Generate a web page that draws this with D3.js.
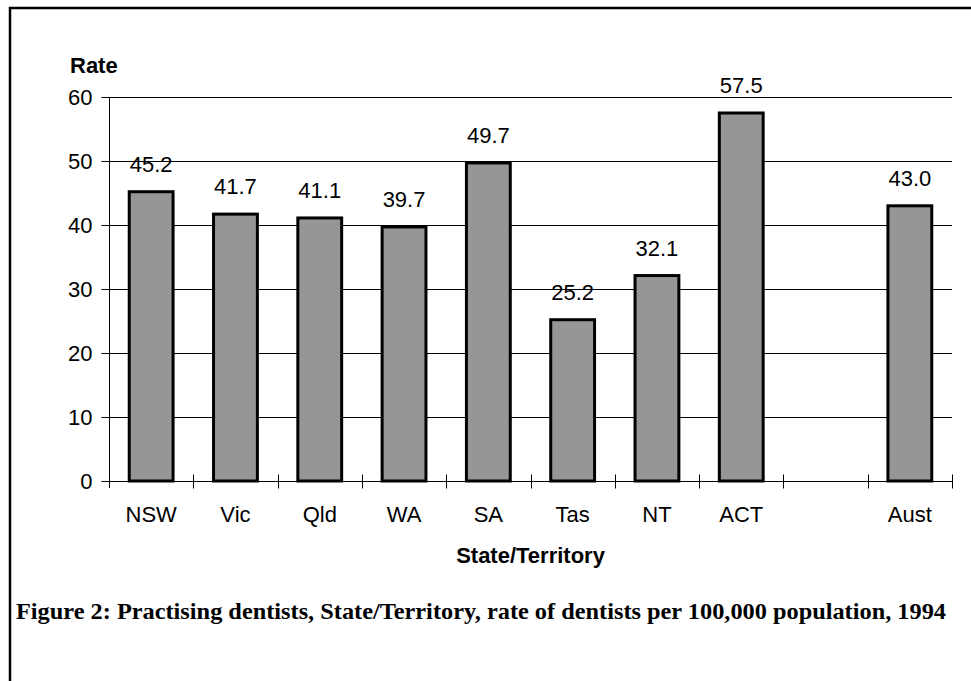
<!DOCTYPE html>
<html>
<head>
<meta charset="utf-8">
<script src="https://cdn.jsdelivr.net/npm/d3@7"></script>
<style>
  body { margin: 0; background: #fff; }
  svg text { font-family: Arial, "Liberation Sans", sans-serif; fill: #000; }
</style>
</head>
<body>
<div id="chart"></div>
<script>
// chart data
const categories = ["NSW", "Vic", "Qld", "WA", "SA", "Tas", "NT", "ACT", "", "Aust"];
const rates = [45.2, 41.7, 41.1, 39.7, 49.7, 25.2, 32.1, 57.5, null, 43.0];
const yTicks = [0, 10, 20, 30, 40, 50, 60];
const yTitle = "Rate";
const xTitle = "State/Territory";
const caption = "Figure 2: Practising dentists, State/Territory, rate of dentists per 100,000 population, 1994";

const data = categories.map((c, i) => ({ cat: c, value: rates[i] }));

const svgWidth = 971, svgHeight = 681;
const plot = { left: 109, right: 952, top: 97, bottom: 481 };

const svg = d3.select("#chart")
    .append("svg")
    .attr("width", svgWidth)
    .attr("height", svgHeight);

// outer frame (right and bottom edges fall outside the picture)
svg.append("rect")
    .attr("x", 10).attr("y", 8)
    .attr("width", 975).attr("height", 690)
    .attr("fill", "none")
    .attr("stroke", "#000")
    .attr("stroke-width", 2.5);

// scales
const x = d3.scaleBand()
    .domain(categories)
    .range([plot.left, plot.right])
    .padding(0);

const y = d3.scaleLinear()
    .domain([0, 60])
    .range([plot.bottom, plot.top]);

const barW = x.bandwidth() * 0.52;

// gridlines
svg.append("g")
    .selectAll("line")
    .data(yTicks.filter(t => t > 0))
    .enter().append("line")
    .attr("x1", plot.left).attr("x2", plot.right)
    .attr("y1", d => Math.round(y(d)) + 0.5)
    .attr("y2", d => Math.round(y(d)) + 0.5)
    .attr("stroke", "#000")
    .attr("stroke-width", 1);

// bars
svg.append("g")
    .selectAll("rect")
    .data(data.filter(d => d.value != null))
    .enter().append("rect")
    .attr("x", d => x(d.cat) + (x.bandwidth() - barW) / 2)
    .attr("y", d => y(d.value))
    .attr("width", barW)
    .attr("height", d => y(0) - y(d.value))
    .attr("fill", "#969696")
    .attr("stroke", "#000")
    .attr("stroke-width", 3);

// value labels
svg.append("g")
    .selectAll("text")
    .data(data.filter(d => d.value != null))
    .enter().append("text")
    .attr("x", d => x(d.cat) + x.bandwidth() / 2)
    .attr("y", d => y(d.value) - 20)
    .attr("text-anchor", "middle")
    .style("font-size", "22px")
    .text(d => d.value.toFixed(1));

// y axis
const yAxis = svg.append("g")
    .attr("transform", `translate(${plot.left + 0.5},0)`)
    .call(d3.axisLeft(y).tickValues(yTicks).tickSize(8).tickPadding(9).tickSizeOuter(0));
yAxis.select(".domain").remove();
yAxis.append("line")
    .attr("y1", plot.top).attr("y2", plot.bottom + 7)
    .attr("stroke", "#000");
yAxis.selectAll("text").style("font-size", "22px").attr("fill", "#000");
yAxis.selectAll("line").attr("stroke", "#000");

// x axis labels
const xAxis = svg.append("g")
    .attr("transform", `translate(0,${Math.round(y(0)) + 0.5})`)
    .call(d3.axisBottom(x).tickSize(0).tickPadding(25));
xAxis.select(".domain").remove();
xAxis.selectAll("text").style("font-size", "22px").attr("fill", "#000");

// x axis line and boundary ticks
xAxis.append("line")
    .attr("x1", plot.left).attr("x2", plot.right)
    .attr("stroke", "#000");
xAxis.selectAll(".btick")
    .data(categories.map(c => x(c)).concat([plot.right]).slice(1))
    .enter().append("line")
    .attr("class", "btick")
    .attr("x1", d => Math.round(d) + 0.5).attr("x2", d => Math.round(d) + 0.5)
    .attr("y1", -7).attr("y2", 7)
    .attr("stroke", "#000");

// axis titles
svg.append("text")
    .attr("x", 70).attr("y", 73)
    .style("font-size", "22px").style("font-weight", "bold")
    .text(yTitle);

svg.append("text")
    .attr("x", (plot.left + plot.right) / 2).attr("y", 563)
    .attr("text-anchor", "middle")
    .style("font-size", "22px").style("font-weight", "bold")
    .text(xTitle);

// caption
svg.append("text")
    .attr("x", 16).attr("y", 619)
    .attr("textLength", 930)
    .attr("lengthAdjust", "spacingAndGlyphs")
    .style("font-family", "'Times New Roman', 'Liberation Serif', serif")
    .style("font-size", "24px").style("font-weight", "bold")
    .text(caption);
</script>
</body>
</html>
